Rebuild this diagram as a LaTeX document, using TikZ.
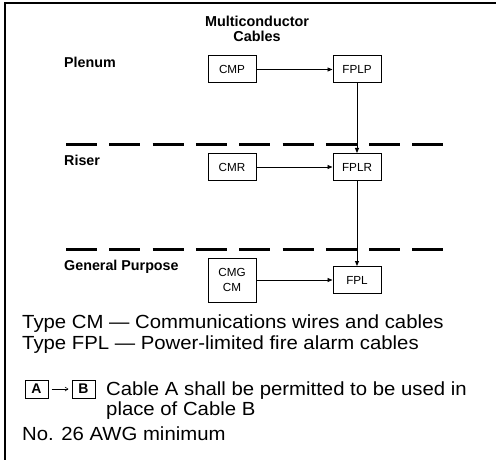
\documentclass[tikz,border=0pt]{standalone}
\usepackage{fontspec}
\setmainfont{Liberation Sans}
\newfontfamily\legendfont[FakeStretch=1.07]{Liberation Sans}
\usetikzlibrary{arrows.meta}
\begin{document}
\begin{tikzpicture}[x=1pt,y=-1pt,
  box/.style={draw, line width=1pt, minimum width=48pt, minimum height=27pt, inner sep=0pt, font=\fontsize{11.7}{15}\selectfont, align=center},
  conn/.style={line width=0.9pt, -{Triangle[length=5pt,width=4pt]}},
  level/.style={font=\bfseries\fontsize{14.3}{15}\selectfont, anchor=base west, inner sep=0pt},
  sepline/.style={line width=3pt, dash pattern=on 31pt off 12.3pt},
  legend/.style={font=\legendfont\fontsize{19}{21}\selectfont, anchor=base west, inner sep=0pt},
  key/.style={draw, line width=1pt, minimum width=23pt, minimum height=18pt, inner sep=0pt, font=\bfseries\fontsize{14}{14}\selectfont},
  keyarrow/.style={line width=0.6pt, -{Straight Barb[length=3pt,width=4pt]}, shorten <=3pt, shorten >=3pt}
]
\useasboundingbox (0,0) rectangle (496,460);
% frame
\draw[line width=1.5pt] (5,460) -- (5,3) -- (496,3);
% title
\node[font=\bfseries\fontsize{14.4}{14.5}\selectfont, align=center, inner sep=0pt] (title) at (257,29) {Multiconductor\\Cables};
% level labels
\node[level] (plenum) at (64,68) {Plenum};
\node[level] (riser) at (64,165) {Riser};
\node[level] (general) at (64,270.5) {General Purpose};
% separators
\draw[sepline] (66,145) -- (444,145);
\draw[sepline] (66,249) -- (444,249);
% boxes
\node[box] (cmp) at (232,69.5) {CMP};
\node[box] (fplp) at (357,69.5) {FPLP};
\node[box] (cmr) at (232,167) {CMR};
\node[box] (fplr) at (357,167) {FPLR};
\node[box, minimum height=44pt] (cmg) at (232,280) {CMG\\CM};
\node[box] (fpl) at (357,280) {FPL};
% connectors
\draw[conn] (cmp) -- (fplp);
\draw[conn] (fplp) -- (fplr);
\draw[conn] (cmr) -- (fplr);
\draw[conn] (fplr) -- (fpl);
\draw[conn] (cmg) -- (fpl);
% legend
\node[legend] (t1) at (22,328) {Type CM — Communications wires and cables};
\node[legend] (t2) at (22,349) {Type FPL — Power-limited fire alarm cables};
\node[key] (ka) at (36.5,389) {A};
\node[key] (kb) at (83.5,389) {B};
\draw[keyarrow] (ka) -- (kb);
\node[legend] (t3) at (106,395) {Cable A shall be permitted to be used in};
\node[legend] (t4) at (106,415) {place of Cable B};
\node[legend] (t5) at (22,440) {No. 26 AWG minimum};
\end{tikzpicture}
\end{document}
